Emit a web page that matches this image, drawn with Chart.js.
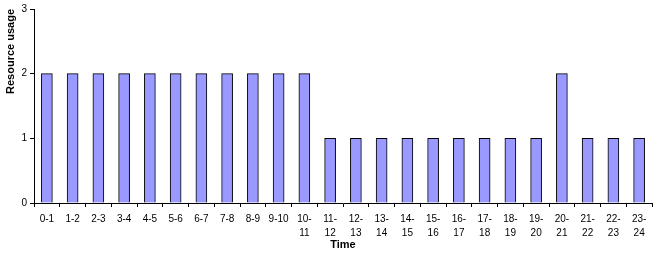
<!DOCTYPE html>
<html>
<head>
<meta charset="utf-8">
<script src="https://cdn.jsdelivr.net/npm/chart.js@4"></script>
<style>
  html, body { margin: 0; padding: 0; background: #fff; }
  #wrap { width: 662px; height: 254px; }
</style>
</head>
<body>
<div id="wrap"><canvas id="chart-usage"></canvas></div>
<script>
const timeSlots = ['0-1', '1-2', '2-3', '3-4', '4-5', '5-6', '6-7', '7-8', '8-9', '9-10',
    ['10-', '11'], ['11-', '12'], ['12-', '13'], ['13-', '14'], ['14-', '15'], ['15-', '16'],
    ['16-', '17'], ['17-', '18'], ['18-', '19'], ['19-', '20'], ['20-', '21'], ['21-', '22'],
    ['22-', '23'], ['23-', '24']]
const usage = [2, 2, 2, 2, 2, 2, 2, 2, 2, 2, 2, 1, 1, 1, 1, 1, 1, 1, 1, 1, 2, 1, 1, 1]
const yTicks = [0, 1, 2, 3]

const font = { family: '"Liberation Sans", Arial, sans-serif', size: 10 }
const tickFont = { family: '"Liberation Sans", Arial, sans-serif', size: 10, lineHeight: 1.4 }
const titleFont = { family: '"Liberation Sans", Arial, sans-serif', size: 11, weight: 'bold' }

Chart.defaults.font = font
Chart.defaults.color = '#000000'

new Chart(document.getElementById('chart-usage').getContext('2d'), {
    type: 'bar',
    data: {
        labels: timeSlots,
        datasets: [{
            data: usage,
            backgroundColor: '#9999FF',
            borderColor: '#000000',
            borderWidth: 1,
            categoryPercentage: 1,
            barThickness: 11
        }]
    },
    options: {
        responsive: true,
        maintainAspectRatio: false,
        animation: false,
        layout: { padding: { top: 9, right: 10, left: 0, bottom: 0 } },
        plugins: {
            legend: { display: false },
            tooltip: { enabled: false }
        },
        scales: {
            x: {
                offset: true,
                grid: {
                    offset: true,
                    drawOnChartArea: false,
                    color: '#000000',
                    tickLength: 4
                },
                border: { color: '#000000', width: 1 },
                ticks: {
                    maxRotation: 0,
                    autoSkip: false,
                    padding: 5,
                    font: tickFont,
                    color: '#000000'
                },
                title: {
                    display: true,
                    text: 'Time',
                    font: titleFont,
                    color: '#000000',
                    padding: { top: 3, bottom: 2 }
                },
                afterFit: (scale) => { scale.height = 51 }
            },
            y: {
                min: 0,
                max: 3,
                afterBuildTicks: (scale) => { scale.ticks = yTicks.map(v => ({ value: v })) },
                grid: {
                    drawOnChartArea: false,
                    color: '#000000',
                    tickLength: 4
                },
                border: { color: '#000000', width: 1 },
                ticks: {
                    padding: 3,
                    font: font,
                    color: '#000000'
                },
                title: {
                    display: true,
                    text: 'Resource usage',
                    align: 'end',
                    font: titleFont,
                    color: '#000000',
                    padding: { top: 4, bottom: 0 }
                },
                afterFit: (scale) => { scale.width = 34 }
            }
        }
    }
})
</script>
</body>
</html>
